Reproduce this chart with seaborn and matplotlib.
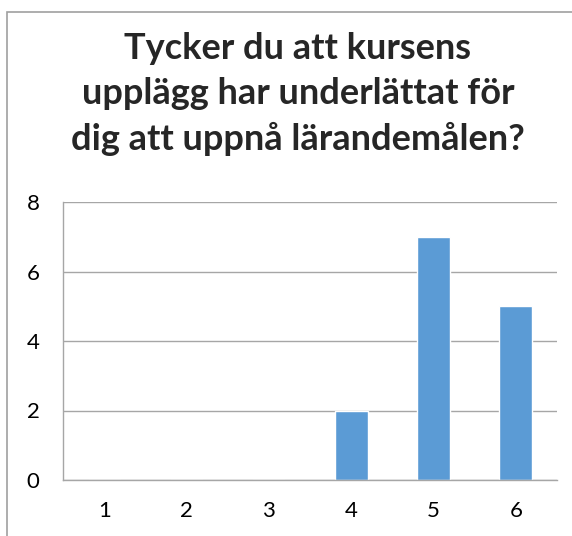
import matplotlib.pyplot as plt
import seaborn as sns
import pandas as pd
from matplotlib.patches import Rectangle

TITLE = "Tycker du att kursens\nupplägg har underlättat för\ndig att uppnå lärandemålen?"
categories = ["1", "2", "3", "4", "5", "6"]
counts = [0, 0, 0, 2, 7, 5]
y_ticks = [0, 2, 4, 6, 8]

BAR_COLOR = "#5B9BD5"
GRID_COLOR = "#A6A6A6"

sns.set_theme(style="white")
plt.rcParams["font.family"] = ["Lato", "DejaVu Sans"]

df = pd.DataFrame({"grade": categories, "count": counts})

W, H = 572, 536
fig = plt.figure(figsize=(W / 100, H / 100), dpi=100)
ax = fig.add_axes([63 / W, 1 - 480 / H, (557 - 63) / W, (480 - 202) / H])

sns.barplot(data=df, x="grade", y="count", color=BAR_COLOR, width=0.4,
            saturation=1, ax=ax)

ax.set_ylim(0, 8)
ax.set_yticks(y_ticks)
ax.yaxis.grid(True, color=GRID_COLOR, lw=1)
ax.set_axisbelow(True)
ax.set_xlabel("")
ax.set_ylabel("")
for side in ["top", "right"]:
    ax.spines[side].set_visible(False)
for side in ["left", "bottom"]:
    ax.spines[side].set_color(GRID_COLOR)
    ax.spines[side].set_linewidth(1)
ax.tick_params(axis="both", length=0, labelsize=16, colors="black")
ax.tick_params(axis="y", pad=17)
ax.tick_params(axis="x", pad=15)

fig.text(298 / W, 1 - 94 / H, TITLE, ha="center", va="center",
         fontsize=26, fontweight="bold", linespacing=1.45)

# chart frame
fig.patches.append(Rectangle((7 / W, -0.1), 1.2, 1 - 12 / H + 0.1,
                             transform=fig.transFigure, fill=False,
                             edgecolor="#A0A0A0", lw=1.2))

fig.savefig("out.png", dpi=100)
